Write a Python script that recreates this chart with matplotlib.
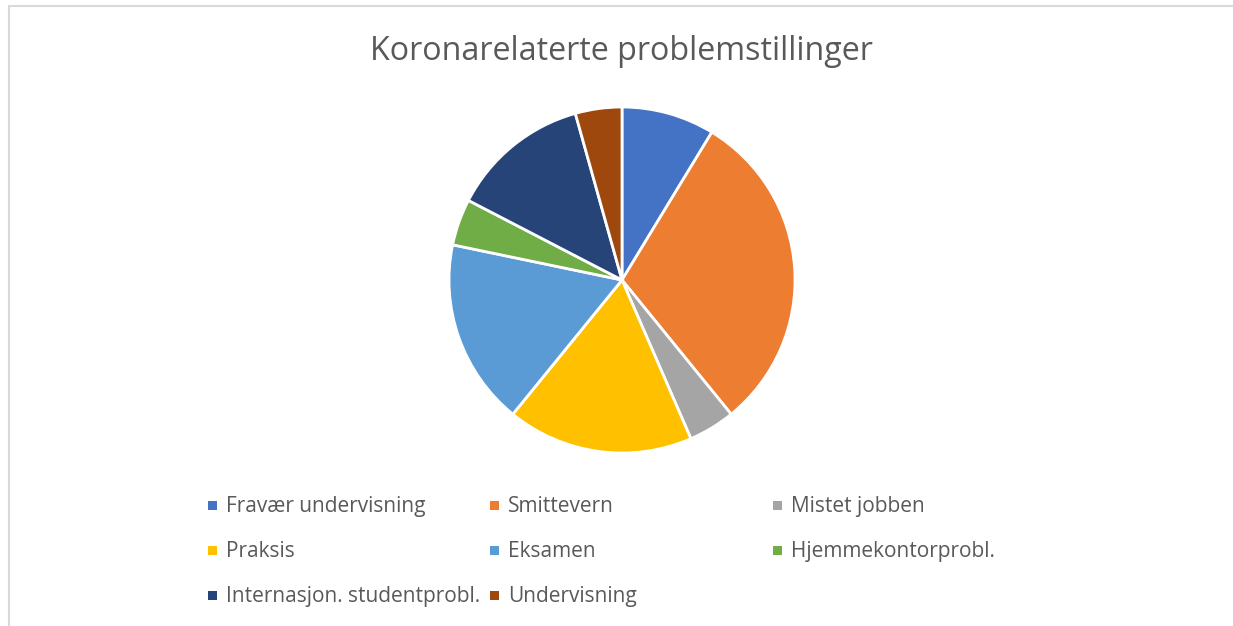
import matplotlib
matplotlib.use("Agg")
import matplotlib.pyplot as plt
from matplotlib.patches import Rectangle

labels = ["Fravær undervisning", "Smittevern", "Mistet jobben", "Praksis",
          "Eksamen", "Hjemmekontorprobl.", "Internasjon. studentprobl.", "Undervisning"]
values = [2, 7, 1, 4, 4, 1, 3, 1]
colors = ["#4472C4", "#ED7D31", "#A5A5A5", "#FFC000",
          "#5B9BD5", "#70AD47", "#264478", "#9E480E"]
title = "Koronarelaterte problemstillinger"

W, H = 1233, 626
fig = plt.figure(figsize=(W / 100, H / 100), dpi=100)
plt.rcParams['font.family'] = ['Open Sans', 'DejaVu Sans']
txt_color = "#595959"

# chart border
fig.patches.append(Rectangle((8.5 / W, -0.1), 2, 1 - 5.5 / H + 0.1, transform=fig.transFigure,
                             fill=False, edgecolor="#D9D9D9", linewidth=1.5))

cx, cy, r = 622, 280, 173
ax = fig.add_axes([(cx - r) / W, 1 - (cy + r) / H, 2 * r / W, 2 * r / H])
ax.pie(values, colors=colors, startangle=90, counterclock=False, radius=1,
       wedgeprops=dict(edgecolor="white", linewidth=2.0))
ax.set_xlim(-1.0, 1.0)
ax.set_ylim(-1.0, 1.0)
ax.set_aspect("equal")
ax.axis("off")

fig.text(621 / W, 1 - 51 / H, title, ha="center", va="center", fontsize=23.2, color=txt_color)

col_x = [208, 490, 773]
row_y = [505, 550, 595]
for i, (lab, c) in enumerate(zip(labels, colors)):
    col, row = i % 3, i // 3
    mx, my = col_x[col], row_y[row]
    fig.patches.append(Rectangle((mx / W, 1 - (my + 4.5) / H), 9 / W, 9 / H,
                                 transform=fig.transFigure, facecolor=c, edgecolor="none"))
    fig.text((mx + 18) / W, 1 - (my + 1.5) / H, lab, ha="left", va="center", fontsize=15.0, color=txt_color)

fig.savefig("out.png", dpi=100, facecolor="white")
